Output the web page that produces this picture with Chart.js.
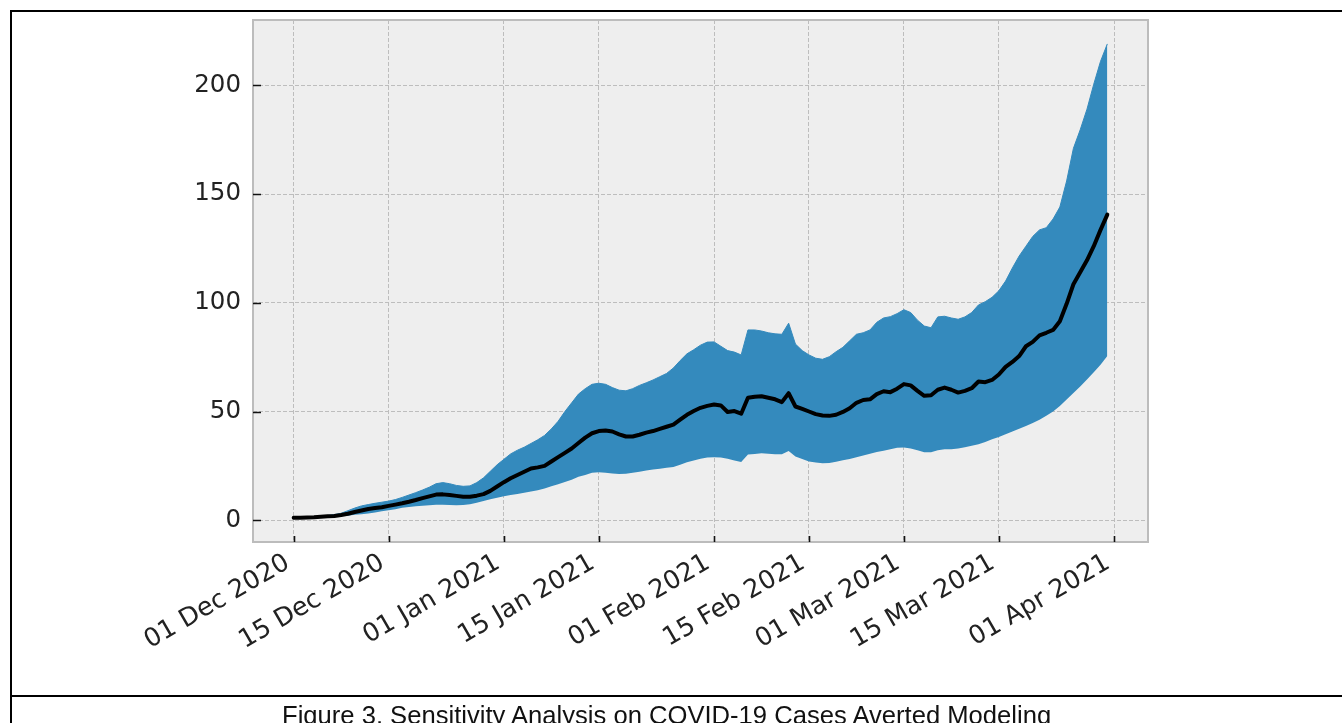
<!DOCTYPE html>
<html><head><meta charset="utf-8">
<script src="https://cdn.jsdelivr.net/npm/chart.js@4"></script>
<style>
html,body{margin:0;padding:0;background:#fff;}
#wrap{position:relative;width:1342px;height:723px;overflow:hidden;background:#fff;}
canvas{position:absolute;left:0;top:0;}
.ln{position:absolute;background:#000;}
#cap{position:absolute;left:282px;top:700px;font-family:'Liberation Sans',Arial,sans-serif;font-size:25.6px;color:#111;white-space:nowrap;line-height:30px;}
</style></head><body>
<div id="wrap">
<canvas id="c" width="1342" height="723"></canvas>
<div class="ln" style="left:10px;top:10px;width:1332px;height:2px"></div>
<div class="ln" style="left:10px;top:10px;width:2px;height:713px"></div>
<div class="ln" style="left:10px;top:695px;width:1332px;height:2px"></div>
<div id="cap">Figure 3. Sensitivity Analysis on COVID-19 Cases Averted Modeling</div>
</div>
<script>
// Days since 01 Dec 2020 (daily series, 01 Dec 2020 .. 31 Mar 2021)
const meanCases = [
  1.2, 1.2, 1.3, 1.4, 1.6, 1.8, 2.0, 2.4, 3.0, 3.8,
  4.5, 5.2, 5.6, 6.0, 6.6, 7.2, 7.8, 8.5, 9.3, 10.2,
  11.0, 11.8, 11.9, 11.6, 11.2, 10.8, 10.8, 11.3, 12.0, 13.5,
  15.5, 17.5, 19.3, 20.8, 22.3, 23.8, 24.3, 25.0, 27.0, 29.0,
  31.0, 33.0, 35.5, 38.0, 40.0, 41.0, 41.3, 40.8, 39.5, 38.5,
  38.5, 39.3, 40.3, 41.0, 42.0, 43.0, 44.0, 46.3, 48.5, 50.2,
  51.7, 52.6, 53.2, 52.8, 49.8, 50.2, 49.0, 56.3, 56.8, 57.0,
  56.3, 55.6, 54.3, 58.4, 52.3, 51.2, 50.0, 48.8, 48.2, 48.0,
  48.5, 49.8, 51.5, 54.0, 55.3, 55.6, 58.0, 59.3, 58.9, 60.5,
  62.6, 62.0, 59.5, 57.2, 57.5, 60.0, 61.0, 60.0, 58.7, 59.5,
  60.7, 63.8, 63.5, 64.5, 67.0, 70.5, 72.8, 75.5, 80.0, 82.0,
  85.0, 86.2, 87.5, 91.5, 99.5, 108.5, 114.0, 119.5, 126.0, 133.5,
  140.5
];
const upperCases = [
  1.4, 1.4, 1.5, 1.6, 1.9, 2.2, 2.6, 3.2, 4.4, 5.6,
  6.6, 7.2, 7.8, 8.3, 8.8, 9.5, 10.5, 11.6, 12.7, 13.9,
  15.2, 16.8, 17.3, 16.8, 16.0, 15.6, 15.8, 17.3, 19.5, 22.5,
  25.5, 28.0, 30.5, 32.2, 33.6, 35.3, 37.0, 39.0, 42.0, 45.5,
  50.0, 54.0, 58.0, 60.5, 62.5, 63.0, 62.5, 61.0, 59.8, 59.5,
  60.5, 62.0, 63.2, 64.5, 66.0, 67.5, 70.0, 73.4, 76.5, 78.4,
  80.5, 81.9, 82.0, 80.0, 78.0, 77.3, 76.0, 87.5, 87.5, 87.0,
  86.2, 85.7, 85.5, 90.6, 81.0, 78.0, 76.0, 74.5, 74.0, 75.2,
  77.5, 79.5, 82.5, 85.5, 86.2, 87.5, 91.0, 93.0, 93.6, 95.0,
  96.8, 95.5, 92.0, 89.3, 88.5, 93.5, 93.8, 93.0, 92.4, 93.5,
  95.5, 99.0, 100.5, 102.5, 105.5, 110.0, 116.0, 121.5, 126.0, 130.5,
  133.5, 134.5, 138.5, 144.0, 156.0, 171.0, 179.5, 189.0, 200.5, 211.0,
  219.0
];
const lowerCases = [
  1.0, 1.0, 1.1, 1.2, 1.3, 1.5, 1.7, 1.9, 2.1, 2.5,
  2.8, 3.1, 3.6, 4.1, 4.6, 5.1, 5.7, 6.1, 6.4, 6.7,
  6.9, 7.1, 7.1, 7.0, 6.9, 7.0, 7.4, 8.0, 8.8, 9.6,
  10.3, 11.0, 11.6, 12.1, 12.6, 13.2, 13.8, 14.6, 15.6, 16.6,
  17.6, 18.6, 20.0, 20.8, 21.8, 22.1, 21.8, 21.5, 21.3, 21.4,
  21.8, 22.3, 22.9, 23.3, 23.7, 24.1, 24.5, 25.5, 26.7, 27.5,
  28.3, 28.8, 29.0, 28.8, 28.3, 27.5, 26.8, 30.2, 30.5, 30.8,
  30.6, 30.3, 30.3, 31.8, 29.3, 28.2, 27.0, 26.5, 26.2, 26.3,
  26.9, 27.6, 28.2, 29.0, 29.8, 30.6, 31.4, 32.0, 32.6, 33.3,
  33.5, 33.0, 32.2, 31.3, 31.3, 32.2, 32.6, 32.6, 33.0, 33.6,
  34.2, 35.0, 36.0, 37.2, 38.3, 39.5, 40.8, 42.1, 43.3, 44.7,
  46.2, 48.0, 50.0, 52.5, 55.5, 58.5, 61.5, 64.7, 68.0, 71.5,
  75.5
];
const xTickDays = [0, 14, 31, 45, 62, 76, 90, 104, 121];
const xTickLabels = ['01 Dec 2020', '15 Dec 2020', '01 Jan 2021', '15 Jan 2021', '01 Feb 2021', '15 Feb 2021', '01 Mar 2021', '15 Mar 2021', '01 Apr 2021'];
const yTicks = [0, 50, 100, 150, 200];

const toPts = arr => arr.map((v, i) => ({x: i, y: v}));

const decor = {
  id: 'decor',
  beforeDraw(chart) {
    const {ctx, chartArea: a} = chart;
    ctx.save();
    ctx.fillStyle = '#eeeeee';
    ctx.fillRect(a.left, a.top, a.right - a.left, a.bottom - a.top);
    ctx.restore();
  },
  afterDraw(chart) {
    const {ctx, chartArea: a, scales} = chart;
    ctx.save();
    ctx.strokeStyle = '#bcbcbc';
    ctx.lineWidth = 2;
    ctx.strokeRect(a.left, a.top, a.right - a.left, a.bottom - a.top);
    ctx.strokeStyle = '#111';
    ctx.lineWidth = 1.6;
    ctx.beginPath();
    scales.x.ticks.forEach(t => {
      const p = Math.round(scales.x.getPixelForValue(t.value)) + 0.5;
      ctx.moveTo(p, a.bottom); ctx.lineTo(p, a.bottom - 6);
    });
    scales.y.ticks.forEach(t => {
      const p = Math.round(scales.y.getPixelForValue(t.value)) + 0.5;
      ctx.moveTo(a.left, p); ctx.lineTo(a.left + 8, p);
    });
    ctx.stroke();
    ctx.restore();
  }
};

new Chart(document.getElementById('c'), {
  type: 'line',
  data: {
    datasets: [
      {label: 'lower', data: toPts(lowerCases), borderWidth: 0, pointRadius: 0, fill: false, order: 2, borderColor: '#348ABD'},
      {label: 'upper', data: toPts(upperCases), borderWidth: 1, borderColor: '#348ABD', backgroundColor: '#348ABD', pointRadius: 0, fill: '-1', order: 1},
      {label: 'mean', data: toPts(meanCases), borderWidth: 4, borderColor: '#000000', pointRadius: 0, fill: false, order: 0, borderJoinStyle: 'round', borderCapStyle: 'round'}
    ]
  },
  options: {
    responsive: false,
    animation: false,
    devicePixelRatio: 1,
    layout: {padding: {left: 0, top: 20, right: 194, bottom: 0}},
    plugins: {legend: {display: false}, tooltip: {enabled: false}},
    elements: {line: {tension: 0}},
    scales: {
      x: {
        type: 'linear', min: -6, max: 126,
        afterBuildTicks: s => { s.ticks = xTickDays.map(v => ({value: v})); },
        afterFit: s => { s.height = 181; s.paddingLeft = 0; s.paddingRight = 0; s.paddingTop = 0; s.paddingBottom = 0; },
        grid: {color: '#bdbdbd', lineWidth: 1, drawTicks: false},
        border: {display: false, dash: [4, 2]},
        ticks: {
          autoSkip: false, maxRotation: 30, minRotation: 30, padding: 6, labelOffset: -6,
          color: '#222', font: {family: "'DejaVu Sans'", size: 25.5},
          callback: v => xTickLabels[xTickDays.indexOf(v)]
        }
      },
      y: {
        type: 'linear', min: -10, max: 230,
        afterBuildTicks: s => { s.ticks = yTicks.map(v => ({value: v})); },
        afterFit: s => { s.width = 253; s.paddingTop = 0; s.paddingBottom = 0; s.paddingLeft = 0; s.paddingRight = 0; },
        grid: {color: '#bdbdbd', lineWidth: 1, drawTicks: false},
        border: {display: false, dash: [4, 2]},
        ticks: {padding: 12, color: '#222', font: {family: "'DejaVu Sans'", size: 24.5}, callback: v => String(v)}
      }
    }
  },
  plugins: [decor]
});
</script>
</body></html>
